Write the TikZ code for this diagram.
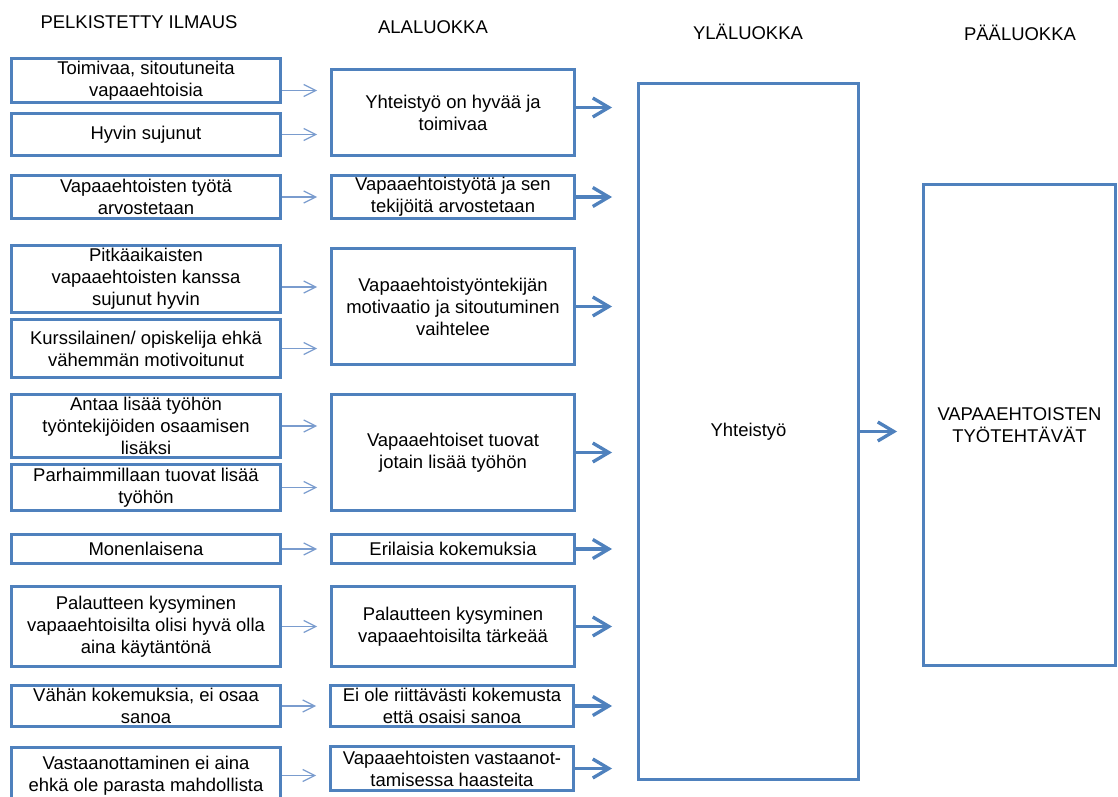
\documentclass[tikz,border=0pt]{standalone}
\usepackage{fontspec}
\setmainfont{Liberation Sans}
\usepackage{tikz}
\usetikzlibrary{arrows.meta}
\definecolor{boxblue}{RGB}{79,129,189}
\definecolor{linkblue}{RGB}{122,156,206}

\begin{document}
\begin{tikzpicture}[
        x=0.02cm, y=-0.02cm,
        font=\fontsize{10.5}{12.5}\selectfont,
        head/.style = {inner sep=0pt},
        box/.style = {draw=boxblue, line width=1.7pt, align=center, inner sep=1pt},
        lbox/.style = {box, minimum width=5.38cm},
        abox/.style = {box, minimum width=4.86cm},
        link/.style = {-{Straight Barb[length=2.4mm, width=2.4mm]}, linkblue, line width=0.7pt, shorten >=0.26cm},
        arrow/.style = {-{Straight Barb[length=3.2mm, width=3.8mm]}, boxblue, line width=1.9pt, shorten >=0.5cm},
    ]
        \useasboundingbox (0,0) rectangle (1118,797);
        % column headings
        \node[head] (h1) at (139,22) {PELKISTETTY ILMAUS};
        \node[head] (h2) at (433,27) {ALALUOKKA};
        \node[head] (h3) at (748,32) {YLÄLUOKKA};
        \node[head] (h4) at (1020,33) {PÄÄLUOKKA};
        % pelkistetyt ilmaukset
        \node[lbox, minimum height=0.88cm] (p1) at (146,80.5) {Toimivaa, sitoutuneita\\vapaaehtoisia};
        \node[lbox, minimum height=0.84cm] (p2) at (146,134.5) {Hyvin sujunut};
        \node[lbox, minimum height=0.86cm] (p3) at (146,197) {Vapaaehtoisten työtä\\arvostetaan};
        \node[lbox, minimum height=1.34cm] (p4) at (146,279) {Pitkäaikaisten\\vapaaehtoisten kanssa\\sujunut hyvin};
        \node[lbox, minimum height=1.16cm] (p5) at (146,348.5) {Kurssilainen/ opiskelija ehkä\\vähemmän motivoitunut};
        \node[lbox, minimum height=1.26cm] (p6) at (146,426) {Antaa lisää työhön\\työntekijöiden osaamisen\\lisäksi};
        \node[lbox, minimum height=0.92cm] (p7) at (146,487.5) {Parhaimmillaan tuovat lisää\\työhön};
        \node[lbox, minimum height=0.58cm] (p8) at (146,549) {Monenlaisena};
        \node[lbox, minimum height=1.60cm] (p9) at (146,626.5) {Palautteen kysyminen\\vapaaehtoisilta olisi hyvä olla\\aina käytäntönä};
        \node[lbox, minimum height=0.82cm] (p10) at (146,706) {Vähän kokemuksia, ei osaa\\sanoa};
        \node[lbox, minimum height=1.12cm] (p11) at (146,775.5) {Vastaanottaminen ei aina\\ehkä ole parasta mahdollista};
        % alaluokat
        \node[abox, minimum height=1.72cm] (a1) at (453,112.5) {Yhteistyö on hyvää ja\\toimivaa};
        \node[abox, minimum height=0.86cm] (a2) at (453,197) {Vapaaehtoistyötä ja sen\\tekijöitä arvostetaan};
        \node[abox, minimum height=2.32cm] (a3) at (453,306.5) {Vapaaehtoistyöntekijän\\motivaatio ja sitoutuminen\\vaihtelee};
        \node[abox, minimum height=2.32cm] (a4) at (453,452.5) {Vapaaehtoiset tuovat\\jotain lisää työhön};
        \node[abox, minimum height=0.58cm] (a5) at (453,549) {Erilaisia kokemuksia};
        \node[abox, minimum height=1.60cm] (a6) at (453,626.5) {Palautteen kysyminen\\vapaaehtoisilta tärkeää};
        \node[abox, minimum height=0.82cm] (a7) at (452,706) {Ei ole riittävästi kokemusta\\että osaisi sanoa};
        \node[abox, minimum height=0.88cm] (a8) at (452,768.5) {Vapaaehtoisten vastaanot-\\tamisessa haasteita};
        % yläluokka ja pääluokka
        \node[box, minimum width=4.40cm, minimum height=13.92cm] (yla) at (748.5,431.5) {Yhteistyö};
        \node[box, minimum width=3.84cm, minimum height=9.62cm] (paa) at (1019.5,425) {VAPAAEHTOISTEN\\TYÖTEHTÄVÄT};
        % ilmaukset -> alaluokat
        \draw[link] ([yshift=-0.2cm]p1.east) -- ([yshift=-0.2cm]p1.east -| a1.west);
        \draw[link] (p2.east) -- (p2.east -| a1.west);
        \draw[link] (p3.east) -- (a2.west);
        \draw[link] ([yshift=-0.16cm]p4.east) -- ([yshift=-0.16cm]p4.east -| a3.west);
        \draw[link] (p5.east) -- (p5.east -| a3.west);
        \draw[link] (p6.east) -- (p6.east -| a4.west);
        \draw[link] (p7.east) -- (p7.east -| a4.west);
        \draw[link] (p8.east) -- (a5.west);
        \draw[link] (p9.east) -- (a6.west);
        \draw[link] (p10.east) -- (p10.east -| a7.west);
        \draw[link] (p11.east) -- (p11.east -| a8.west);
        % alaluokat -> yläluokka
        \draw[arrow] ([yshift=0.1cm]a1.east) -- ([yshift=0.1cm]a1.east -| yla.west);
        \draw[arrow] (a2.east) -- (a2.east -| yla.west);
        \draw[arrow] (a3.east) -- (a3.east -| yla.west);
        \draw[arrow] (a4.east) -- (a4.east -| yla.west);
        \draw[arrow] (a5.east) -- (a5.east -| yla.west);
        \draw[arrow] (a6.east) -- (a6.east -| yla.west);
        \draw[arrow] (a7.east) -- (a7.east -| yla.west);
        \draw[arrow] (a8.east) -- (a8.east -| yla.west);
        \draw[arrow] (yla.east) -- (yla.east -| paa.west);
    \end{tikzpicture}
\end{document}
